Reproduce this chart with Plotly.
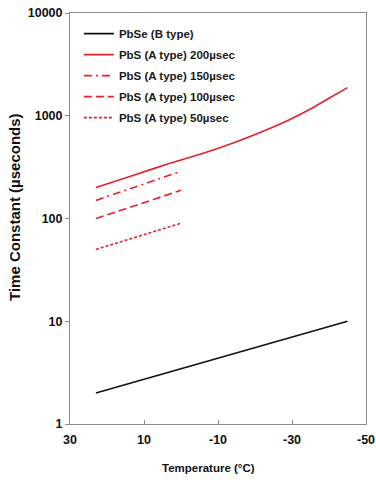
import plotly.graph_objects as go

# Data
temp_pbse = [23, -45]
tau_pbse = [2, 10]

temp_200 = [23, 13, 3, -6, -15, -23, -29, -35, -40, -45]
tau_200 = [200, 262, 345, 431, 559, 727, 905, 1165, 1480, 1880]

temp_150 = [23, 1]
tau_150 = [150, 280]

temp_100 = [23, 0]
tau_100 = [100, 188]

temp_50 = [23, 0]
tau_50 = [50, 90]

x_ticks = [30, 10, -10, -30, -50]
y_ticks = [1, 10, 100, 1000, 10000]
y_tick_text = ["1", "10", "100", "1000", "10000"]

RED = "#e3232a"
FONT = "Liberation Sans, Arial, sans-serif"

fig = go.Figure()
series = [
    ("PbSe (B type)", temp_pbse, tau_pbse, "#111111", "solid"),
    ("PbS (A type) 200µsec", temp_200, tau_200, RED, "solid"),
    ("PbS (A type) 150µsec", temp_150, tau_150, RED, "8px,4px,2px,4px"),
    ("PbS (A type) 100µsec", temp_100, tau_100, RED, "8px,4px"),
    ("PbS (A type) 50µsec", temp_50, tau_50, RED, "3px,2px"),
]
for i, (name, xs, ys, col, dash) in enumerate(series):
    fig.add_trace(go.Scatter(
        x=xs, y=ys, mode="lines", name=name, legendgroup=f"g{i}",
        line=dict(color=col, width=1.6, dash=dash, shape="spline", smoothing=0.5),
    ))

axis_line = "#8a8a8a"
fig.update_layout(
    width=376, height=486, autosize=False,
    margin=dict(l=70, r=10, t=13, b=62),
    paper_bgcolor="white", plot_bgcolor="white",
    showlegend=True,
    legend=dict(
        x=0.030, y=0.985, xanchor="left", yanchor="top",
        bgcolor="rgba(0,0,0,0)", borderwidth=0,
        font=dict(family=FONT, size=11.5, color="#1a1a1a", weight="bold"),
        traceorder="grouped", tracegroupgap=2,
    ),
    xaxis=dict(
        range=[30, -50], tickvals=x_ticks, ticktext=[str(v) for v in x_ticks],
        showgrid=False, zeroline=False, showline=True, linecolor=axis_line,
        linewidth=1, mirror=True, ticks="inside", ticklen=4, tickcolor=axis_line,
        tickfont=dict(family=FONT, size=12.5, color="#111", weight="bold"),
        ticklabelstandoff=4,
        automargin=False,
    ),
    yaxis=dict(
        type="log", range=[0, 4], tickvals=y_ticks, ticktext=y_tick_text,
        showgrid=False, zeroline=False, showline=True, linecolor=axis_line,
        linewidth=1, mirror=True, ticks="outside", ticklen=4, tickcolor=axis_line,
        tickfont=dict(family=FONT, size=12.5, color="#111", weight="bold"),
        automargin=False,
    ),
    annotations=[
        dict(text="Temperature (°C)", xref="paper", yref="paper",
             x=(208 - 70) / 296, y=-(468 - 424) / 411, xanchor="center", yanchor="middle",
             showarrow=False, font=dict(family=FONT, size=11.5, color="#111", weight="bold")),
        dict(text="Time Constant (µseconds)", xref="paper", yref="paper",
             x=-(70 - 14) / 296, y=(424 - 207) / 411, xanchor="center", yanchor="middle",
             textangle=-90, showarrow=False,
             font=dict(family=FONT, size=15, color="#111", weight="bold")),
    ],
)

fig.write_html("out.html", config={"displayModeBar": False},
               post_script="document.body.style.margin='0';")
